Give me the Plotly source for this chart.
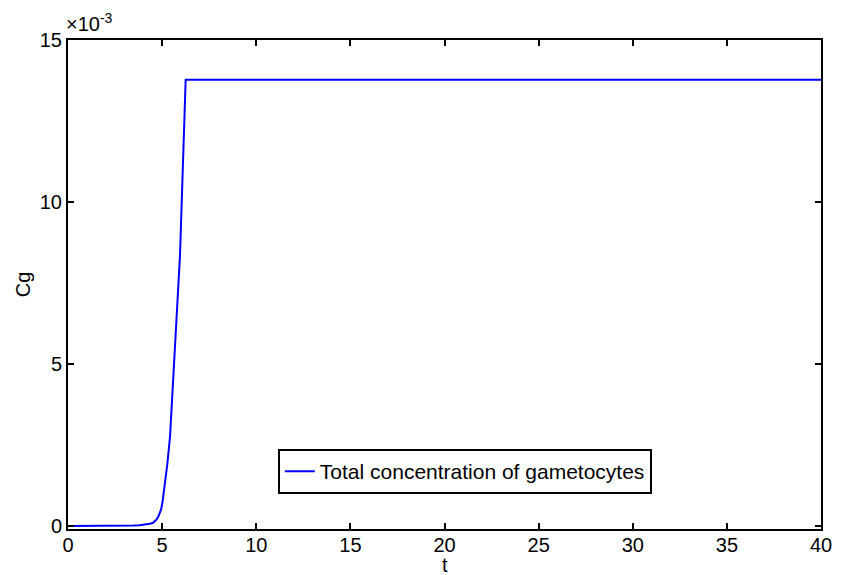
import plotly.graph_objects as go

# Data (Cg in units of 1e-3)
t_vals = [0, 1, 2, 3, 3.5, 3.8, 4.1, 4.35, 4.52, 4.6, 4.7, 4.8, 4.89, 4.95, 5.02, 5.08,
          5.15, 5.28, 5.42, 5.59, 5.77, 5.95, 6.1, 6.25, 10, 20, 30, 40]
cg_e3 = [0, 0, 0, 0.004, 0.012, 0.025, 0.045, 0.07, 0.1, 0.14, 0.2, 0.29, 0.4, 0.52, 0.74, 1.0,
         1.32, 1.93, 2.76, 4.41, 6.46, 8.36, 11.0, 13.77, 13.77, 13.77, 13.77, 13.77]
cg_vals = [v * 1e-3 for v in cg_e3]

x_ticks = [0, 5, 10, 15, 20, 25, 30, 35, 40]
y_ticks = [0, 5, 10, 15]
series_name = "Total concentration of gametocytes"
x_title = "t"
y_title = "Cg"

FONT = "Liberation Sans, Arial, sans-serif"
FS = 20

fig = go.Figure()
fig.add_trace(go.Scatter(x=t_vals, y=cg_vals, mode="lines", name=series_name,
                         line=dict(color="#0000ff", width=2)))

axis_common = dict(showline=True, linecolor="black", linewidth=2, mirror="ticks",
                   ticks="inside", ticklen=6, tickwidth=2, tickcolor="black",
                   showgrid=False, zeroline=False, automargin=False,
                   tickfont=dict(family=FONT, size=FS, color="black"))

fig.update_xaxes(range=[0, 40], tickvals=x_ticks, ticktext=[str(v) for v in x_ticks],
                 ticklabelstandoff=-3, **axis_common)
fig.update_yaxes(range=[-0.0000926, 0.015], tickvals=[v * 1e-3 for v in y_ticks],
                 ticktext=[str(v) for v in y_ticks],
                 title=dict(text=y_title, font=dict(family=FONT, size=FS, color="black"), standoff=4),
                 **axis_common)

fig.add_annotation(text=x_title, xref="paper", yref="paper", x=0.5, y=0,
                   xanchor="center", yanchor="middle", showarrow=False, yshift=-36,
                   font=dict(family=FONT, size=FS, color="black"))

fig.add_annotation(text="×10<sup>-3</sup>", xref="paper", yref="paper", x=0, y=1,
                   xanchor="left", yanchor="bottom", showarrow=False, xshift=-4, yshift=3,
                   font=dict(family=FONT, size=FS, color="black"))

fig.update_layout(
    width=842, height=575,
    margin=dict(l=60, r=29, t=32, b=54),
    paper_bgcolor="white", plot_bgcolor="white",
    showlegend=True,
    legend=dict(x=0.527, y=0.0716, xanchor="center", yanchor="bottom",
                bordercolor="black", borderwidth=2, bgcolor="white",
                font=dict(family=FONT, size=21, color="black"),
                itemwidth=30, tracegroupgap=0),
)

fig.write_html("out.html")
